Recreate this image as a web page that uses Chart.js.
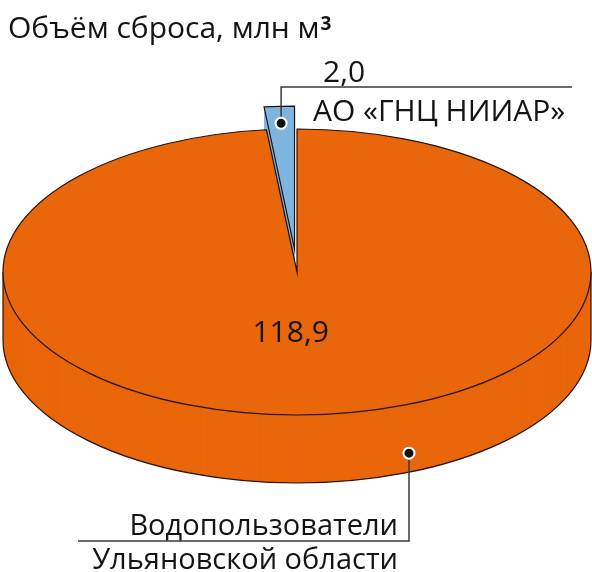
<!DOCTYPE html>
<html>
<head>
<meta charset="utf-8">
<script src="https://cdn.jsdelivr.net/npm/chart.js@4/dist/chart.umd.min.js"></script>
<style>
  html, body { margin: 0; padding: 0; background: #fff; }
  #wrap { position: relative; width: 592px; height: 572px; }
</style>
</head>
<body>
<div id="wrap"><canvas id="c" width="592" height="572"></canvas></div>
<script>
// Discharge volume by source, million m³
const categories = ['Водопользователи Ульяновской области', 'АО «ГНЦ НИИАР»'];
const volumes = [118.9, 2.0];
const valueLabels = ['118,9', '2,0'];
const sliceColors = ['#E9660A', '#7DB5E0'];
const chartTitle = 'Объём сброса, млн м';
const titleSuperscript = '3';

const FONT = '"Open Sans", "Noto Sans", sans-serif';
const TEXT_COLOR = '#141414';
const OUTLINE = '#24120a';
const LEADER = '#3a3a3a';
const STRETCH_X = 294 / 143;  // horizontal / vertical radius of the tilted pie
const DEPTH = 68;             // height of the side wall
const EXPLODE = 23;           // pull-out distance of the small slice

// map the library's circular pie onto a flattened ellipse
function toEllipse(ctx, el) {
  ctx.translate(el.x, el.y);
  ctx.scale(STRETCH_X, 1);
  ctx.translate(-el.x, -el.y);
}

function pullOut(el, i) {
  if (i !== 1) return [0, 0];
  const mid = (el.startAngle + el.endAngle) / 2;
  return [Math.cos(mid) * EXPLODE, Math.sin(mid) * EXPLODE];
}

function ellipsePoint(el, angle, r, dy) {
  return [el.x + Math.cos(angle) * r * STRETCH_X, el.y + Math.sin(angle) * r + (dy || 0)];
}

const pie3d = {
  id: 'pie3d',
  beforeDatasetsDraw(chart) {
    const ctx = chart.ctx;
    const arcs = chart.getDatasetMeta(0).data;

    // side wall: stacked copies of each slice, lowest first
    for (let k = DEPTH; k >= 1; k--) {
      arcs.forEach((el, i) => {
        const [dx, dy] = pullOut(el, i);
        ctx.save();
        ctx.translate(0, k);
        toEllipse(ctx, el);
        ctx.translate(dx, dy);
        el.draw(ctx);
        ctx.restore();
      });
    }

    // outline of the front wall
    ctx.save();
    ctx.strokeStyle = OUTLINE;
    ctx.lineWidth = 1.2;
    arcs.forEach((el, i) => {
      if (i !== 0) return;
      const a0 = Math.max(el.startAngle, 0);
      const a1 = Math.min(el.endAngle, Math.PI);
      if (a1 <= a0) return;
      ctx.beginPath();
      ctx.save();
      ctx.translate(0, DEPTH);
      toEllipse(ctx, el);
      ctx.arc(el.x, el.y, el.outerRadius, a0, a1);
      ctx.restore();
      ctx.stroke();
      [a0, a1].forEach(a => {
        const [x, y] = ellipsePoint(el, a, el.outerRadius);
        ctx.beginPath();
        ctx.moveTo(x, y);
        ctx.lineTo(x, y + DEPTH);
        ctx.stroke();
      });
    });
    ctx.restore();

    // top faces
    arcs.forEach((el, i) => {
      const [dx, dy] = pullOut(el, i);
      ctx.save();
      toEllipse(ctx, el);
      ctx.translate(dx, dy);
      el.draw(ctx);
      ctx.restore();
    });

    // outlines of the top faces
    ctx.save();
    ctx.strokeStyle = OUTLINE;
    ctx.lineWidth = 1.2;
    arcs.forEach((el, i) => {
      const [dx, dy] = pullOut(el, i);
      ctx.beginPath();
      ctx.save();
      toEllipse(ctx, el);
      ctx.translate(dx, dy);
      ctx.moveTo(el.x, el.y);
      ctx.arc(el.x, el.y, el.outerRadius, el.startAngle, el.endAngle);
      ctx.closePath();
      ctx.restore();
      ctx.stroke();
    });
    ctx.restore();

    return false;
  },

  afterDraw(chart) {
    const ctx = chart.ctx;
    const arcs = chart.getDatasetMeta(0).data;
    const big = arcs[0], small = arcs[1];

    ctx.save();
    ctx.fillStyle = TEXT_COLOR;
    ctx.textBaseline = 'alphabetic';

    // title with superscript unit
    ctx.font = '30px ' + FONT;
    ctx.textAlign = 'left';
    ctx.fillText(chartTitle, 8, 38);
    const tw = ctx.measureText(chartTitle).width;
    ctx.font = 'bold 19px ' + FONT;
    ctx.fillText(titleSuperscript, 8 + tw + 1, 30);

    // value inside the large slice
    ctx.font = '30px ' + FONT;
    const tp = big.tooltipPosition();
    const vx = big.x + (tp.x - big.x) * STRETCH_X - 14;
    const vy = tp.y - 10;
    ctx.textAlign = 'center';
    ctx.textBaseline = 'middle';
    ctx.fillText(valueLabels[0], vx, vy);
    ctx.textBaseline = 'alphabetic';

    ctx.strokeStyle = LEADER;
    ctx.lineWidth = 1.5;

    // leader for the small slice
    const [sdx, sdy] = pullOut(small, 1);
    const mid = (small.startAngle + small.endAngle) / 2;
    const r = small.outerRadius * 0.88;
    const ax = small.x + (Math.cos(mid) * r + sdx) * STRETCH_X;
    const ay = small.y + Math.sin(mid) * r + sdy;
    const lineY1 = 87;
    ctx.beginPath();
    ctx.moveTo(ax, ay);
    ctx.lineTo(ax, lineY1);
    ctx.lineTo(572, lineY1);
    ctx.stroke();
    ctx.textAlign = 'left';
    ctx.fillText(valueLabels[1], 323, 82);
    ctx.fillText(categories[1], 313, 121);
    dot(ctx, ax, ay);

    // leader for the large slice, anchored on the front wall
    const ang = 1.18;
    const [bx, by0] = ellipsePoint(big, ang, big.outerRadius);
    const by = by0 + DEPTH * 0.72;
    const lineY2 = 541;
    ctx.beginPath();
    ctx.moveTo(bx, by);
    ctx.lineTo(bx, lineY2);
    ctx.lineTo(78, lineY2);
    ctx.stroke();
    ctx.font = '29px ' + FONT;
    ctx.textAlign = 'right';
    ctx.fillText('Водопользователи', 398, 535);
    ctx.fillText('Ульяновской области', 398, 569);
    dot(ctx, bx, by);

    ctx.restore();
  }
};

function dot(ctx, x, y) {
  ctx.save();
  ctx.beginPath();
  ctx.arc(x, y, 5.5, 0, Math.PI * 2);
  ctx.fillStyle = '#111';
  ctx.fill();
  ctx.lineWidth = 2;
  ctx.strokeStyle = '#fff';
  ctx.stroke();
  ctx.restore();
}

new Chart(document.getElementById('c'), {
  type: 'pie',
  data: {
    labels: categories,
    datasets: [{
      data: volumes,
      backgroundColor: sliceColors,
      borderWidth: 0
    }]
  },
  options: {
    responsive: false,
    animation: false,
    layout: { padding: { left: 3, right: 1, top: 129, bottom: 157 } },
    plugins: {
      legend: { display: false },
      tooltip: { enabled: false },
      title: { display: false }
    }
  },
  plugins: [pie3d]
});
</script>
</body>
</html>
